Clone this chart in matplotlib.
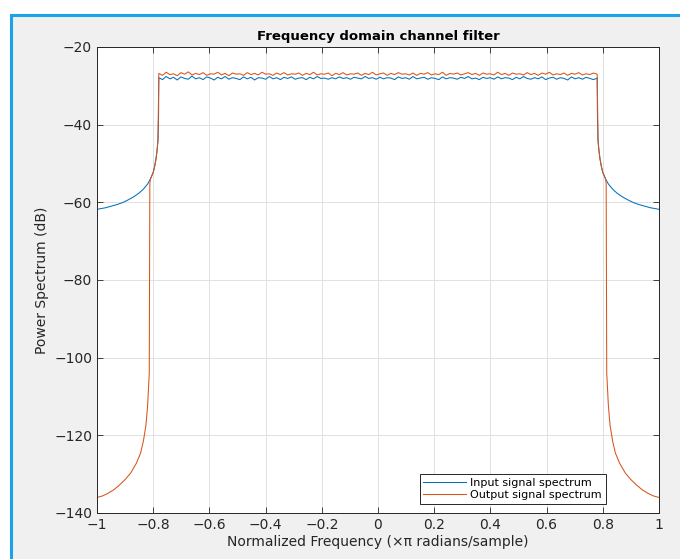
import matplotlib
matplotlib.use('Agg')
import matplotlib.pyplot as plt
from matplotlib.patches import Rectangle
import numpy as np

plt.rcParams.update({
    "font.family": "DejaVu Sans",
    "font.size": 9.5,
})

BLUE = "#0072BD"
ORANGE = "#D95319"
TXT = "#262626"

# left skirt of the input spectrum (normalized freq, dB)
blue_left_f = [-1.0, -0.97, -0.95, -0.93, -0.91, -0.89, -0.87, -0.85, -0.835,
               -0.82, -0.81, -0.80, -0.795, -0.79, -0.786, -0.783, -0.781]
blue_left_db = [-61.8, -61.4, -61.0, -60.6, -60.1, -59.4, -58.6, -57.6, -56.6,
                -55.3, -54.0, -52.3, -50.8, -48.8, -46.5, -44.0, -38.0]

# passband (noisy flat top)
blue_pass_db = [
    -27.9, -28.4, -27.6, -28.2, -27.8, -28.5, -27.7, -28.1, -28.3, -27.5, -28.2, -27.9,
    -28.4, -27.7, -28.0, -28.5, -27.8, -28.2, -27.6, -28.3, -27.9, -28.1, -28.4, -27.7,
    -28.2, -27.8, -28.5, -27.9, -28.0, -28.3, -27.6, -28.2, -27.9, -28.4, -27.8, -28.1,
    -27.7, -28.3, -28.0, -27.9, -28.4, -27.8, -28.2, -27.6, -28.1, -28.0, -28.3, -27.9,
    -28.2, -27.7, -28.1, -27.9, -28.3, -27.8, -28.0, -28.2, -27.6, -28.1, -27.9, -28.3,
    -27.8, -28.2, -27.9, -28.0, -28.4, -27.7, -28.1, -27.9, -28.3, -27.6, -28.2, -28.0,
    -27.8, -28.3, -27.9, -28.1, -28.4, -27.7, -28.2, -27.9, -28.0, -28.3, -27.8, -28.1,
    -27.6, -28.2, -28.0, -28.4, -27.8, -28.1, -27.9, -28.3, -27.7, -28.2, -27.9, -28.0,
    -28.4, -27.8, -28.2, -27.6, -28.1, -28.3, -27.9, -28.2, -27.7, -28.4, -28.0, -27.8,
    -28.3, -27.9, -28.1, -28.5, -27.7, -28.2, -27.9, -28.3, -27.8, -28.1, -28.4, -28.0]
orange_pass_db = [
    -26.8, -27.3, -26.5, -27.1, -26.9, -27.4, -26.6, -27.0, -26.4, -27.2, -26.8, -27.1,
    -26.6, -27.3, -26.9, -27.0, -26.5, -27.2, -26.8, -27.4, -26.7, -27.0, -26.9, -27.3,
    -26.6, -27.1, -26.8, -27.2, -26.5, -27.0, -26.9, -27.3, -26.7, -27.1, -26.6, -27.2,
    -26.9, -27.0, -26.7, -27.3, -26.8, -27.1, -26.5, -27.2, -26.9, -27.0, -26.7, -27.4,
    -26.8, -27.1, -26.6, -27.2, -26.9, -27.0, -26.7, -27.3, -26.8, -27.1, -26.5, -27.2,
    -26.9, -26.7, -27.3, -26.8, -27.1, -26.6, -27.0, -26.9, -27.2, -26.7, -27.3, -26.8,
    -27.0, -26.6, -27.2, -26.9, -27.1, -26.5, -27.3, -26.8, -27.0, -26.7, -27.2, -26.9,
    -26.6, -27.1, -26.8, -27.3, -26.7, -27.0, -26.9, -27.2, -26.5, -27.1, -26.8, -27.3,
    -26.7, -27.0, -26.9, -27.2, -26.6, -27.1, -26.8, -27.3, -26.7, -27.0, -26.5, -27.2,
    -26.9, -27.1, -26.7, -27.3, -26.8, -27.0, -26.6, -27.2, -26.9, -27.1, -26.7, -27.0]

# right skirt of the input spectrum
blue_right_f = [0.781, 0.783, 0.786, 0.79, 0.795, 0.80, 0.81, 0.82, 0.835,
                0.85, 0.87, 0.89, 0.91, 0.93, 0.95, 0.97, 1.0]
blue_right_db = [-38.0, -44.0, -46.5, -48.8, -50.8, -52.3, -54.0, -55.3, -56.6,
                 -57.6, -58.6, -59.4, -60.1, -60.6, -61.0, -61.4, -61.8]

# output spectrum stopband / transition
orange_left_f = [-1.0, -0.98, -0.96, -0.94, -0.92, -0.90, -0.88, -0.86, -0.845,
                 -0.835, -0.826, -0.820, -0.816, -0.814, -0.813, -0.812,
                 -0.81, -0.80, -0.795, -0.79, -0.786, -0.783]
orange_left_db = [-136.0, -135.6, -134.9, -134.0, -132.8, -131.4, -129.7, -127.2, -124.6,
                  -121.5, -117.5, -112.5, -107.0, -104.0, -80.0, -55.2,
                  -54.0, -52.3, -50.8, -48.8, -46.5, -44.0]
orange_right_f = [0.783, 0.786, 0.79, 0.795, 0.80, 0.81, 0.812, 0.813, 0.814,
                  0.816, 0.820, 0.826, 0.835, 0.845, 0.86, 0.88, 0.90, 0.92,
                  0.94, 0.96, 0.98, 1.0]
orange_right_db = [-44.0, -46.5, -48.8, -50.8, -52.3, -54.0, -55.2, -80.0, -104.0,
                   -107.0, -112.5, -117.5, -121.5, -124.6, -127.2, -129.7, -131.4, -132.8,
                   -134.0, -134.9, -135.6, -136.0]

pass_f = np.linspace(-0.78, 0.78, len(blue_pass_db))

blue_f = np.concatenate([blue_left_f, pass_f, blue_right_f])
blue_db = np.concatenate([blue_left_db, blue_pass_db, blue_right_db])
orange_f = np.concatenate([orange_left_f, pass_f, orange_right_f])
orange_db = np.concatenate([orange_left_db, orange_pass_db, orange_right_db])

W, H = 680, 559
fig = plt.figure(figsize=(W / 100, H / 100), dpi=100, facecolor="white")
fig.patches.append(Rectangle((11 / W, -0.05), 1.2, (H - 15) / H + 0.05,
                             transform=fig.transFigure, facecolor="#F0F0F0",
                             edgecolor="#1AA3E6", linewidth=2.2, zorder=-10))

ax = fig.add_axes([97 / W, 1 - 513 / H, 562 / W, 466 / H])
ax.set_zorder(5)
ax.plot(blue_f, blue_db, color=BLUE, linewidth=0.75, label="Input signal spectrum")
ax.plot(orange_f, orange_db, color=ORANGE, linewidth=0.75, label="Output signal spectrum")

ax.set_xlim(-1, 1)
ax.set_ylim(-140, -20)
ax.set_xticks(np.arange(-1, 1.01, 0.2))
ax.set_xticklabels(["\u22121", "\u22120.8", "\u22120.6", "\u22120.4", "\u22120.2",
                    "0", "0.2", "0.4", "0.6", "0.8", "1"])
ax.set_yticks(np.arange(-140, -19, 20))
ax.set_yticklabels(["\u2212%d" % -v for v in range(-140, -19, 20)])
ax.tick_params(direction="in", top=True, right=True, colors=TXT, labelsize=10,
               length=4, width=0.6)
for s in ax.spines.values():
    s.set_color(TXT)
    s.set_linewidth(0.7)
ax.grid(True, color="#DCDCDC", linewidth=0.6)
ax.set_axisbelow(True)

ax.set_title("Frequency domain channel filter", fontsize=9.5, fontweight="bold", color="black", pad=5)
ax.set_xlabel("Normalized Frequency (\u00d7\u03c0 radians/sample)", fontsize=10, color=TXT, labelpad=2)
ax.set_ylabel("Power Spectrum (dB)", fontsize=10, color=TXT, labelpad=4)

leg = ax.legend(loc="lower right", bbox_to_anchor=(0.905, 0.02), borderaxespad=0,
                fontsize=8, fancybox=False, framealpha=1, edgecolor=TXT,
                handlelength=3.8, handletextpad=0.4, borderpad=0.35, labelspacing=0.2)
leg.get_frame().set_linewidth(0.7)

fig.savefig("out.png", dpi=100, facecolor=fig.get_facecolor())
